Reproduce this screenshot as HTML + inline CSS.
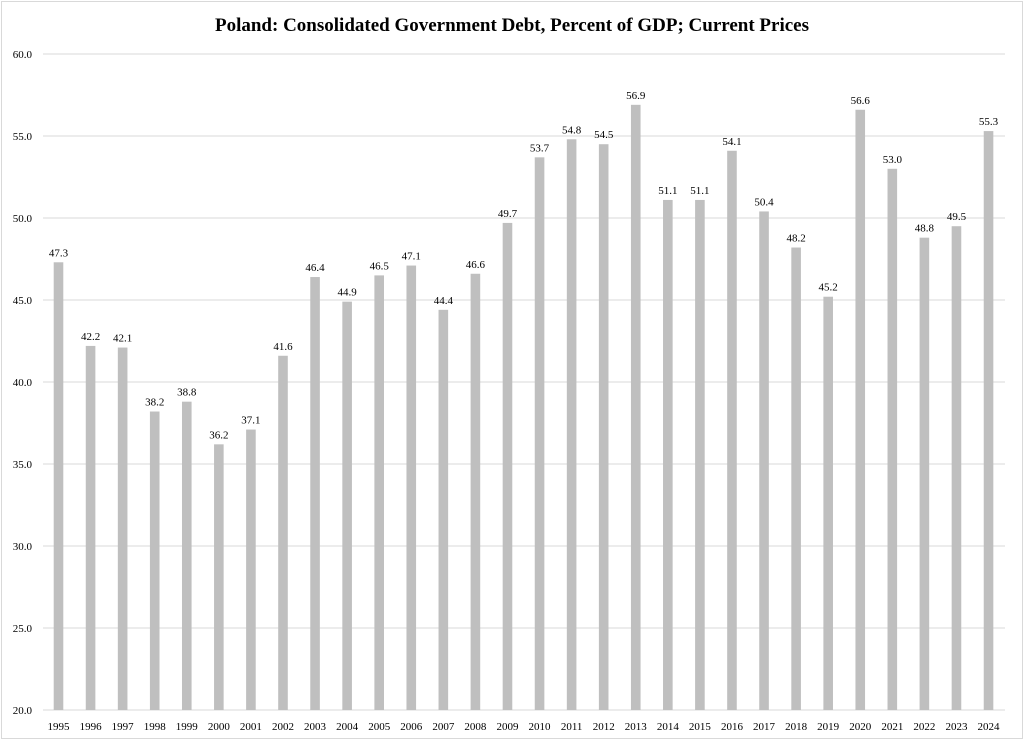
<!DOCTYPE html>
<html><head><style>body{margin:0;background:#fff}</style></head><body>
<svg width="1024" height="743" xmlns="http://www.w3.org/2000/svg" font-family="Liberation Serif, serif">
<rect x="1.5" y="1.5" width="1021" height="737" fill="#fff" stroke="#d9d9d9"/>
<text x="512" y="31" text-anchor="middle" font-size="19" font-weight="bold">Poland: Consolidated Government Debt, Percent of GDP; Current Prices</text>
<g id="g"></g>
</svg>
<script>
const vals=[47.3,42.2,42.1,38.2,38.8,36.2,37.1,41.6,46.4,44.9,46.5,47.1,44.4,46.6,49.7,53.7,54.8,54.5,56.9,51.1,51.1,54.1,50.4,48.2,45.2,56.6,53.0,48.8,49.5,55.3];
const g=document.getElementById('g');let h='';
const y=v=>710-(v-20)*(656/40);
for(let i=0;i<=8;i++){const v=20+i*5,yy=y(v);
h+=`<line x1="43" x2="1005" y1="${yy}" y2="${yy}" stroke="#d9d9d9"/>`;
h+=`<text x="32" y="${yy+4}" text-anchor="end" font-size="11">${v.toFixed(1)}</text>`;}
vals.forEach((v,i)=>{const cx=58.5+i*32.07;
h+=`<rect x="${cx-4.8}" y="${y(v)}" width="9.6" height="${710-y(v)}" fill="#bfbfbf"/>`;
h+=`<text x="${cx}" y="${y(v)-6}" text-anchor="middle" font-size="11">${v.toFixed(1)}</text>`;
h+=`<text x="${cx}" y="730" text-anchor="middle" font-size="11">${1995+i}</text>`;});
g.innerHTML=h;
</script>
</body></html>
